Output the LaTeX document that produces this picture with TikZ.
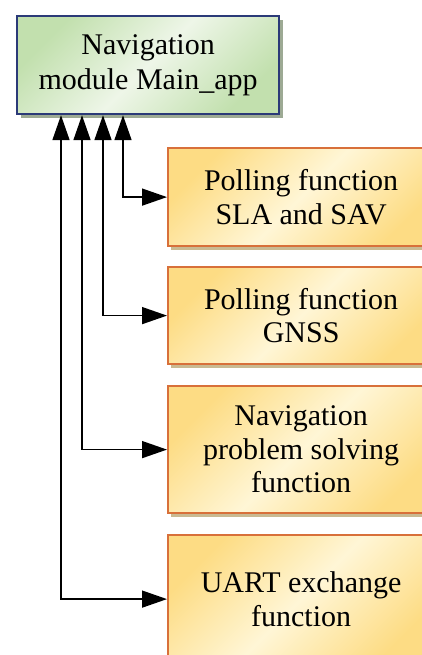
\documentclass[tikz,border=0pt]{standalone}
\usepackage{fontspec}
\setmainfont{Liberation Serif}
\newfontfamily\tnr{Liberation Serif}
\usetikzlibrary{arrows.meta,shadows}
\definecolor{navyb}{HTML}{2B3A78}
\definecolor{greenA}{HTML}{C2E0AE}
\definecolor{greenB}{HTML}{EEF6E8}
\definecolor{greenS}{HTML}{9DAA94}
\definecolor{orangeb}{HTML}{D8703A}
\definecolor{yelA}{HTML}{FDDC84}
\definecolor{yelB}{HTML}{FFF6D6}
\definecolor{tanS}{HTML}{C9BA92}
\tikzset{
  mainbox/.style={draw=navyb, line width=2.2pt, inner sep=0pt,
    top color=greenA, bottom color=greenA, middle color=greenB, shading angle=45,
    drop shadow={shadow xshift=4pt, shadow yshift=-4pt, fill=greenS, opacity=1},
    align=center, font=\tnr\fontsize{30}{35}\selectfont},
  funcbox/.style={draw=orangeb, line width=2.2pt, inner sep=0pt,
    top color=yelA, bottom color=yelA, middle color=yelB, shading angle=45,
    drop shadow={shadow xshift=3pt, shadow yshift=-4pt, fill=tanS, opacity=1},
    minimum width=266pt, anchor=north west,
    align=center, font=\tnr\fontsize{30}{33.5}\selectfont},
  conn/.style={line width=1.5pt, {Triangle[length=25pt,width=17pt]}-{Triangle[length=25pt,width=17pt]}}
}
\begin{document}
\begin{tikzpicture}[x=1pt,y=-1pt]
\useasboundingbox (0,0) rectangle (422,655);
\clip (0,0) rectangle (422,655);
\fill[white] (0,0) rectangle (422,655);
\node[mainbox, minimum width=262pt, minimum height=98pt, anchor=north west] (main) at (16,15) {Navigation\\module Main\_app};
\node[funcbox, minimum height=98pt] (b1) at (167,147) {Polling function\\SLA and SAV};
\node[funcbox, minimum height=97pt] (b2) at (167,266) {Polling function\\GNSS};
\node[funcbox, minimum height=127pt] (b3) at (167,385) {Navigation\\problem solving\\function};
\node[funcbox, minimum height=128pt] (b4) at (167,534) {UART exchange\\function};
\coordinate (c1) at (123,0);
\coordinate (c2) at (103,0);
\coordinate (c3) at (82,0);
\coordinate (c4) at (61,0);
\draw[conn] (main.south -| c1) |- (b1.west);
\draw[conn] (main.south -| c2) |- (b2.west);
\draw[conn] (main.south -| c3) |- (b3.west);
\draw[conn] (main.south -| c4) |- (b4.west);
\end{tikzpicture}
\end{document}
